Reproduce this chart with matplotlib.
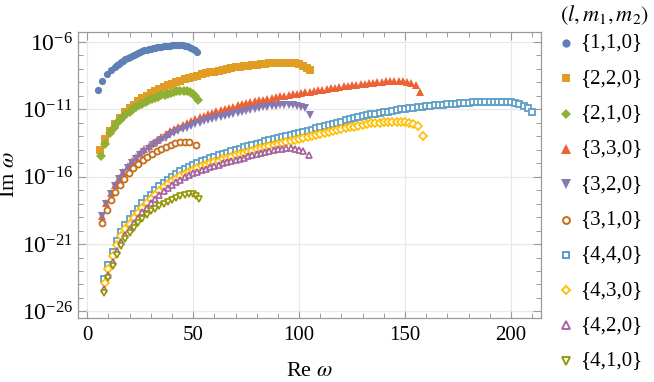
import numpy as np
import matplotlib
matplotlib.use("Agg")
import matplotlib.pyplot as plt
from matplotlib.lines import Line2D
from matplotlib.ticker import FixedLocator, LogFormatterSciNotation, MultipleLocator, NullFormatter

plt.rcParams['font.family'] = ['Liberation Serif', 'DejaVu Serif']
plt.rcParams['mathtext.fontset'] = 'stix'

# Re(omega) and log10 Im(omega), one pair of lists per mode
re_110 = [5.1, 7.0, 9.1, 11.2, 13, 14, 15, 16, 17, 18, 19, 20, 21, 22, 23, 24, 25, 26, 27, 28,
          29, 30, 31, 32, 33, 34, 35, 36, 37, 38, 39, 40, 41, 42, 43, 44, 45, 46, 47, 48,
          49, 50, 51, 51.6]
lg_110 = [-9.56, -8.86, -8.40, -8.08, -7.84, -7.72, -7.60, -7.49, -7.38, -7.28, -7.18, -7.09,
          -7.01, -6.93, -6.86, -6.80, -6.74, -6.68, -6.63, -6.58, -6.54, -6.50, -6.46, -6.43,
          -6.40, -6.37, -6.34, -6.32, -6.30, -6.28, -6.26, -6.25, -6.24, -6.23, -6.22, -6.22,
          -6.23, -6.26, -6.30, -6.36, -6.44, -6.52, -6.62, -6.76]

re_220 = [6.0, 8.3, 10.7, 13.0, 15.4, 17.8, 20, 22, 24, 26, 28, 30, 32, 34, 36, 38, 40, 42, 44, 46,
          48, 50, 52, 54, 56, 58, 60, 62, 64, 66, 68, 70, 72, 74, 76, 78, 80, 82, 84, 86,
          88, 90, 92, 94, 96, 98, 100, 102, 103.5, 105]
lg_220 = [-14.0, -13.2, -12.58, -12.08, -11.62, -11.22, -10.9, -10.64, -10.4, -10.18,
          -9.98, -9.8, -9.64, -9.49, -9.35, -9.22, -9.10, -8.98, -8.87, -8.77,
          -8.67, -8.58, -8.49, -8.41, -8.33, -8.26, -8.19, -8.12, -8.06, -8.00,
          -7.94, -7.89, -7.84, -7.79, -7.75, -7.71, -7.67, -7.64, -7.61, -7.58,
          -7.56, -7.54, -7.53, -7.53, -7.55, -7.59, -7.66, -7.77, -7.90, -8.10]

re_210 = [6.6, 8.4, 10.8, 12.5, 14, 15.5, 17, 18.5, 20, 21.5, 23, 24.5, 26, 27.5, 29, 30.5,
          32, 33.5, 35, 36.5, 38, 39.5, 41, 42.5, 44, 45.5, 47, 48.5, 50, 51, 52.2]
lg_210 = [-14.46, -13.57, -12.78, -12.35, -12.05, -11.79, -11.56, -11.35, -11.16, -10.99,
          -10.84, -10.70, -10.58, -10.45, -10.33, -10.23, -10.14, -10.05, -9.97, -9.90,
          -9.83, -9.76, -9.70, -9.66, -9.63, -9.63, -9.66, -9.73, -9.86, -10.0, -10.3]

re_330 = [7.1, 9, 11, 13, 15, 17, 19, 21, 23, 25, 27, 29, 31, 33, 35, 37, 39, 41, 43, 45,
          47, 49, 51, 53, 55, 57, 59, 61, 63, 65, 67, 69, 71, 73, 75, 77, 79, 81, 83, 85,
          87, 89, 91, 93, 95, 97, 99, 101, 103, 105, 107, 109, 111, 113, 115, 117, 119, 121,
          123, 125, 127, 129, 131, 133, 135, 137, 139, 141, 143, 145, 147, 149, 151, 153,
          155, 157.2]
lg_330 = [-18.90, -17.98, -17.21, -16.60, -16.09, -15.64, -15.23, -14.87, -14.54, -14.24,
          -13.97, -13.71, -13.47, -13.24, -13.03, -12.83, -12.64, -12.46, -12.30, -12.14,
          -11.99, -11.85, -11.71, -11.59, -11.47, -11.36, -11.25, -11.15, -11.05, -10.96,
          -10.87, -10.79, -10.71, -10.63, -10.55, -10.48, -10.41, -10.34, -10.28, -10.22,
          -10.16, -10.10, -10.04, -9.98, -9.93, -9.88, -9.83, -9.78, -9.73, -9.68,
          -9.63, -9.59, -9.54, -9.50, -9.44, -9.39, -9.35, -9.30, -9.25, -9.21,
          -9.17, -9.13, -9.09, -9.05, -9.01, -8.98, -8.95, -8.93, -8.91, -8.90,
          -8.90, -8.92, -8.96, -9.04, -9.22, -9.70]

re_320 = [7.1, 9, 11, 13, 15, 17, 19, 21, 23, 25, 27, 29, 31, 33, 35, 37, 39, 41, 43, 45,
          47, 49, 51, 53, 55, 57, 59, 61, 63, 65, 67, 69, 71, 73, 75, 77, 79, 81, 83, 85,
          87, 89, 91, 93, 95, 97, 99, 101, 103, 105.2]
lg_320 = [-18.95, -18.05, -17.30, -16.70, -16.20, -15.76, -15.37, -15.02, -14.70, -14.41,
          -14.15, -13.91, -13.68, -13.47, -13.28, -13.10, -12.93, -12.77, -12.62, -12.48,
          -12.35, -12.23, -12.11, -12.00, -11.90, -11.80, -11.71, -11.62, -11.54, -11.46,
          -11.39, -11.32, -11.25, -11.18, -11.10, -11.03, -10.97, -10.91, -10.86, -10.81,
          -10.76, -10.72, -10.69, -10.67, -10.67, -10.69, -10.73, -10.80, -10.93, -11.42]

re_310 = [7.1, 9.3, 11.2, 13.2, 15.3, 17.4, 19.6, 21.8, 24.0, 26.2, 28.4, 30.6, 32.8, 35.0,
          37.2, 39.4, 41.6, 43.8, 46.0, 48.1, 51.1]
lg_310 = [-19.46, -18.47, -17.73, -17.12, -16.62, -16.16, -15.72, -15.35, -15.03, -14.76,
          -14.52, -14.30, -14.10, -13.92, -13.76, -13.62, -13.51, -13.43, -13.40, -13.43, -13.62]

re_440 = [8, 10, 12, 14, 16, 18, 20, 22, 24, 26, 28, 30, 32, 34, 36, 38, 40, 42, 44, 46,
          48, 50, 52, 54, 56, 58, 60, 62, 64, 66, 68, 70, 72, 74, 76, 78, 80, 82, 84, 86,
          88, 90, 92, 94, 96, 98, 100, 102, 104, 106, 108, 110, 112, 114, 116, 118, 120, 122,
          124, 126, 128, 130, 132, 134, 136, 138, 140, 142, 144, 146, 148, 150, 152, 154,
          156, 158, 160, 162, 164, 166, 168, 170, 172, 174, 176, 178, 180, 182, 184, 186,
          188, 190, 192, 194, 196, 198, 200, 202, 204, 206, 208, 210]
lg_440 = [-23.57, -22.53, -21.60, -20.80, -20.12, -19.60, -19.15, -18.77, -18.38, -17.99,
          -17.65, -17.33, -17.02, -16.72, -16.46, -16.21, -15.99, -15.79, -15.61, -15.43,
          -15.28, -15.13, -14.98, -14.84, -14.74, -14.63, -14.52, -14.42, -14.32, -14.22,
          -14.11, -14.02, -13.93, -13.83, -13.74, -13.65, -13.56, -13.47, -13.38, -13.30,
          -13.22, -13.14, -13.05, -12.97, -12.90, -12.82, -12.75, -12.67, -12.59, -12.50,
          -12.41, -12.33, -12.25, -12.16, -12.08, -11.99, -11.91, -11.82, -11.73, -11.67,
          -11.59, -11.52, -11.45, -11.38, -11.32, -11.27, -11.22, -11.16, -11.11, -11.06,
          -11.01, -10.96, -10.92, -10.89, -10.85, -10.81, -10.77, -10.74, -10.70, -10.66,
          -10.64, -10.62, -10.60, -10.57, -10.54, -10.53, -10.51, -10.49, -10.48, -10.47,
          -10.46, -10.45, -10.45, -10.45, -10.45, -10.47, -10.48, -10.52, -10.60, -10.73,
          -10.89, -11.17]

re_430 = [8.3, 10, 12, 14, 16, 18, 20, 22, 24, 26, 28, 30, 32, 34, 36, 38, 40, 42, 44, 46,
          48, 50, 52, 54, 56, 58, 60, 62, 64, 66, 68, 70, 72, 74, 76, 78, 80, 82, 84, 86,
          88, 90, 92, 94, 96, 98, 100, 102, 104, 106, 108, 110, 112, 114, 116, 118, 120, 122,
          124, 126, 128, 130, 132, 134, 136, 138, 140, 142, 144, 146, 148, 150, 152, 154,
          156, 158.3]
lg_430 = [-23.87, -22.85, -21.92, -21.10, -20.44, -19.92, -19.48, -19.09, -18.71, -18.32,
          -17.98, -17.67, -17.36, -17.06, -16.80, -16.56, -16.34, -16.14, -15.96, -15.79,
          -15.64, -15.49, -15.34, -15.21, -15.11, -15.00, -14.90, -14.80, -14.71, -14.61,
          -14.51, -14.42, -14.34, -14.24, -14.15, -14.07, -13.98, -13.90, -13.81, -13.74,
          -13.67, -13.59, -13.51, -13.44, -13.37, -13.30, -13.23, -13.16, -13.08, -13.00,
          -12.92, -12.83, -12.76, -12.68, -12.61, -12.54, -12.47, -12.40, -12.33, -12.28,
          -12.22, -12.16, -12.10, -12.05, -12.01, -11.98, -11.95, -11.93, -11.92, -11.92,
          -11.93, -11.96, -12.00, -12.07, -12.22, -12.98]

re_420 = [8, 10, 12, 14, 16, 18, 20, 22, 24, 26, 28, 30, 32, 34, 36, 38, 40, 42, 44, 46,
          48, 50, 52, 54, 56, 58, 60, 62, 64, 66, 68, 70, 72, 74, 76, 78, 80, 82, 84, 86,
          88, 90, 92, 94, 96, 98, 100, 102, 104.5]
lg_420 = [-24.35, -23.28, -22.33, -21.50, -20.82, -20.32, -19.85, -19.45, -19.05, -18.65,
          -18.30, -17.97, -17.65, -17.34, -17.08, -16.82, -16.60, -16.40, -16.22, -16.04,
          -15.90, -15.76, -15.62, -15.49, -15.40, -15.30, -15.20, -15.11, -15.02, -14.93,
          -14.83, -14.75, -14.67, -14.58, -14.50, -14.42, -14.34, -14.26, -14.18, -14.11,
          -14.04, -13.97, -13.92, -13.90, -13.90, -13.93, -14.00, -14.12, -14.40]

re_410 = [8, 10, 12, 14, 16, 18, 20, 22, 24, 26, 28, 30, 32, 34, 36, 38, 40, 42, 44, 46,
          48, 50, 51.5, 52.7]
lg_410 = [-24.60, -23.55, -22.62, -21.80, -21.14, -20.63, -20.20, -19.83, -19.47, -19.12,
          -18.83, -18.57, -18.38, -18.20, -18.03, -17.86, -17.70, -17.56, -17.44, -17.34,
          -17.29, -17.30, -17.40, -17.68]

labels = ['{1,1,0}', '{2,2,0}', '{2,1,0}', '{3,3,0}', '{3,2,0}',
          '{3,1,0}', '{4,4,0}', '{4,3,0}', '{4,2,0}', '{4,1,0}']
series = [(re_110, lg_110), (re_220, lg_220), (re_210, lg_210), (re_330, lg_330),
          (re_320, lg_320), (re_310, lg_310), (re_440, lg_440), (re_430, lg_430),
          (re_420, lg_420), (re_410, lg_410)]

colors = ['#5E81B5', '#E19C24', '#8FB032', '#EB6235', '#8778B3',
          '#C56E1A', '#5D9EC7', '#FFBF00', '#A5609D', '#929600']
# (marker, size, filled, edge width)
styles = [('o', 5.2, True, 0), ('s', 5.3, True, 0), ('D', 4.7, True, 0),
          ('^', 6.3, True, 0), ('v', 6.3, True, 0),
          ('o', 4.3, False, 1.3), ('s', 4.0, False, 1.3), ('D', 3.6, False, 1.2),
          ('^', 5.0, False, 1.2), ('v', 5.0, False, 1.2)]

fig = plt.figure(figsize=(6.54, 3.82), dpi=100)
ax = fig.add_axes([0.1197, 0.1683, 0.7075, 0.7471])

for (re, lg), c, (mk, ms, filled, mew) in zip(series, colors, styles):
    ax.plot(re, 10.0 ** np.array(lg), linestyle='none', marker=mk, markersize=ms,
            markerfacecolor=c if filled else 'white', markeredgecolor=c,
            markeredgewidth=mew if not filled else 0.0, zorder=3)

ax.set_yscale('log')
ax.set_xlim(-4.25, 214.2)
ax.set_ylim(10 ** -26.47, 10 ** -5.28)

ax.xaxis.set_major_locator(FixedLocator([0, 50, 100, 150, 200]))
ax.xaxis.set_minor_locator(MultipleLocator(10))
ax.yaxis.set_major_locator(FixedLocator([1e-6, 1e-11, 1e-16, 1e-21, 1e-26]))
ax.yaxis.set_minor_locator(FixedLocator([10.0 ** k for k in range(-26, -5)]))
ax.yaxis.set_major_formatter(LogFormatterSciNotation())
ax.yaxis.set_minor_formatter(NullFormatter())

frame = '#9a9a9a'
for sp in ax.spines.values():
    sp.set_color(frame)
    sp.set_linewidth(0.9)
ax.tick_params(which='both', direction='in', top=True, right=True, colors=frame,
               labelcolor='black')
ax.tick_params(axis='x', labelsize=15, pad=6)
ax.tick_params(axis='y', labelsize=17, pad=4)
ax.tick_params(which='major', length=6, width=0.8)
ax.tick_params(which='minor', length=3.5, width=0.7)
ax.grid(True, which='major', color='#e8e8e8', linewidth=0.9, zorder=0)
ax.set_axisbelow(True)

ax.set_xlabel(r'Re $\omega$', fontsize=16, labelpad=12)
ax.set_ylabel(r'Im $\omega$', fontsize=16, labelpad=2)

# legend column on the right
fig.text(560 / 654, 1 - 15 / 382, r'$(l,m_1,m_2)$', fontsize=16, ha='left', va='center')
for i, (lab, c, (mk, ms, filled, mew)) in enumerate(zip(labels, colors, styles)):
    yy = 1 - (43 + 35.3 * i) / 382
    fig.add_artist(Line2D([566 / 654], [yy], transform=fig.transFigure, linestyle='none',
                          marker=mk, markersize=ms * 1.15,
                          markerfacecolor=c if filled else 'white', markeredgecolor=c,
                          markeredgewidth=mew * 1.1 if not filled else 0.0))
    fig.text(580 / 654, yy, lab, fontsize=15, ha='left', va='center')

fig.savefig('out.png', dpi=100)
